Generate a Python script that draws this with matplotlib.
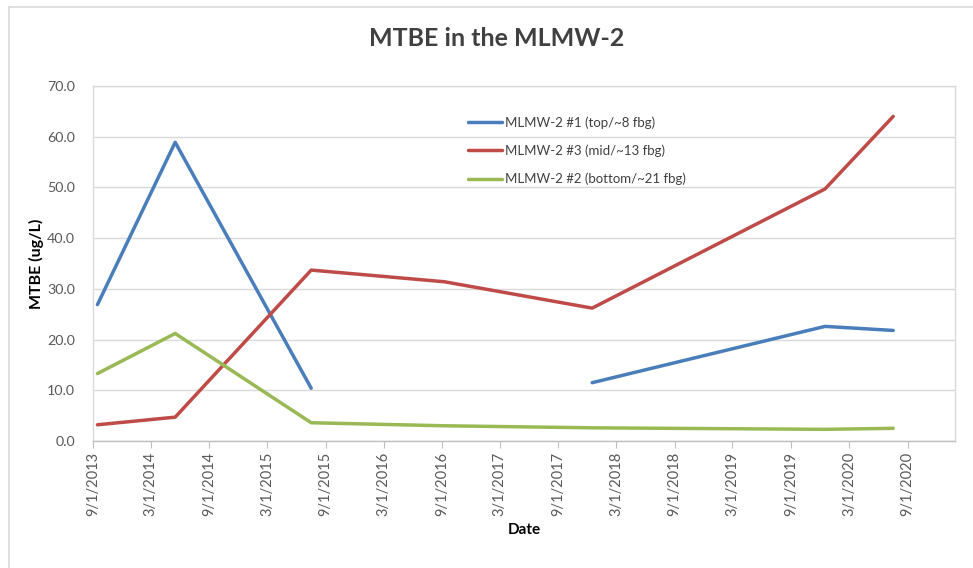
import numpy as np
import matplotlib
matplotlib.use('Agg')
import matplotlib.pyplot as plt
import matplotlib.dates as mdates
from matplotlib.lines import Line2D
from datetime import date

# ======================
# 数据
# ======================
dates = [date(2013, 9, 15), date(2014, 5, 17), date(2015, 7, 18), date(2016, 9, 8),
         date(2017, 12, 16), date(2019, 12, 17), date(2020, 7, 18)]
top_8fbg = [26.9, 58.9, 10.4, np.nan, 11.5, 22.6, 21.8]
mid_13fbg = [3.2, 4.7, 33.7, 31.4, 26.2, 49.7, 64.0]
bottom_21fbg = [13.3, 21.2, 3.6, 3.0, 2.6, 2.3, 2.5]

series_names = ['MLMW-2 #1 (top/~8 fbg)', 'MLMW-2 #3 (mid/~13 fbg)', 'MLMW-2 #2 (bottom/~21 fbg)']
series_colors = ['#4A7EBB', '#BE4B48', '#98B954']

x_ticks = [date(y, m, 1) for y in range(2013, 2021) for m in (3, 9)
           if date(2013, 9, 1) <= date(y, m, 1) <= date(2020, 9, 1)]
y_ticks = np.arange(0, 71, 10)

plt.rcParams['font.family'] = ['Lato', 'DejaVu Sans']

fig = plt.figure(figsize=(9.73, 5.68), dpi=100)
ax = fig.add_axes([93/973, 1 - 441/568, (955 - 93)/973, (441 - 86)/568])

for vals, name, c in zip([top_8fbg, mid_13fbg, bottom_21fbg], series_names, series_colors):
    ax.plot(dates, vals, color=c, lw=2.5, solid_capstyle='round', solid_joinstyle='round', label=name)

ax.set_xlim(date(2013, 9, 1), date(2021, 1, 28))
ax.set_ylim(0, 70)
ax.set_xticks(x_ticks)
ax.xaxis.set_major_formatter(plt.FuncFormatter(
    lambda v, p: (lambda d: f"{d.month}/{d.day}/{d.year}")(mdates.num2date(v))))
ax.set_yticks(y_ticks)
ax.set_yticklabels([f"{v:.1f}" for v in y_ticks])
ax.tick_params(axis='x', rotation=90, length=5, color='#BFBFBF', labelsize=10.5,
               labelcolor='#595959', pad=3)
ax.tick_params(axis='y', length=0, labelsize=10.3, labelcolor='#595959', pad=13)

ax.grid(axis='y', color='#D9D9D9', lw=1)
ax.set_axisbelow(True)
for s in ax.spines.values():
    s.set_color('#D9D9D9')
    s.set_linewidth(1)
ax.spines['bottom'].set_color('#BFBFBF')

ax.set_ylabel('MTBE (ug/L)', fontsize=11.5, fontweight='bold', labelpad=2)
ax.set_xlabel('Date', fontsize=11, fontweight='bold', labelpad=5)

fig.text(497/973, 1 - 38/568, 'MTBE in the MLMW-2', ha='center', va='center',
         fontsize=18, fontweight='bold', color='#404040')

leg = ax.legend(loc='upper left', bbox_to_anchor=((468 - 93)/862, (441 - 116)/355),
                frameon=False, fontsize=9.5, handlelength=2.6, handletextpad=0.2,
                labelspacing=1.2, borderaxespad=0, borderpad=0)
for t in leg.get_texts():
    t.set_color('#404040')

# 外框
fig.add_artist(Line2D([8.5/973, 1], [1 - 6.5/568, 1 - 6.5/568], color='#D9D9D9', lw=1.2))
fig.add_artist(Line2D([8.5/973, 8.5/973], [0, 1 - 6.5/568], color='#D9D9D9', lw=1.2))

fig.savefig('out.png', dpi=100)
